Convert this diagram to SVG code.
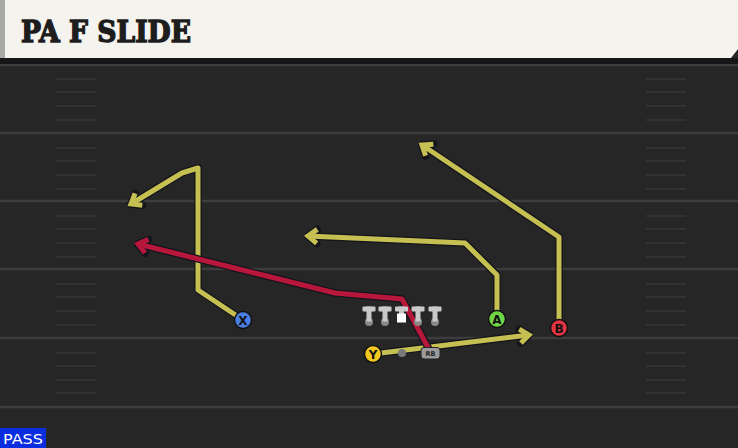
<svg xmlns="http://www.w3.org/2000/svg" width="738" height="448" viewBox="0 0 738 448">
<defs>
<style>
.yl{stroke:#3d3d3d;stroke-width:2.5;fill:none}
.hm{stroke:#373737;stroke-width:1.5}
.out{fill:none;stroke:#14141c;stroke-width:7.5;stroke-linejoin:round;stroke-linecap:round}
.ry{fill:none;stroke:#c6c052;stroke-width:5;stroke-linejoin:round;stroke-linecap:butt}
.rr{fill:none;stroke:#b8173c;stroke-width:5;stroke-linejoin:round;stroke-linecap:butt}
.ply{stroke:#111;stroke-width:1.5}
.lbl{font-family:"DejaVu Sans","Liberation Sans",sans-serif;font-size:12px;font-weight:bold;fill:#111;text-anchor:middle}
.t{fill:#c9c9c9}
.d{fill:#8a8a8a}
</style>
<marker id="aOut" markerUnits="userSpaceOnUse" markerWidth="30" markerHeight="30" refX="0" refY="0" viewBox="-15 -15 30 30" orient="auto" overflow="visible">
<path d="M-9,-7 L0,0 L-9,7" fill="none" stroke="#14141c" stroke-width="7.5" stroke-linejoin="round" stroke-linecap="round"/>
</marker>
<marker id="aY" markerUnits="userSpaceOnUse" markerWidth="30" markerHeight="30" refX="0" refY="0" viewBox="-15 -15 30 30" orient="auto" overflow="visible">
<path d="M-9,-7 L0,0 L-9,7" fill="none" stroke="#c6c052" stroke-width="5" stroke-linejoin="miter" stroke-linecap="butt"/>
</marker>
<marker id="aR" markerUnits="userSpaceOnUse" markerWidth="30" markerHeight="30" refX="0" refY="0" viewBox="-15 -15 30 30" orient="auto" overflow="visible">
<path d="M-9,-7 L0,0 L-9,7" fill="none" stroke="#b8173c" stroke-width="5" stroke-linejoin="miter" stroke-linecap="butt"/>
</marker>
</defs>
<rect x="0" y="0" width="738" height="448" fill="#262626"/>
<g id="field">
<line class="yl" x1="0" y1="65" x2="738" y2="65"/>
<line class="yl" x1="0" y1="133" x2="738" y2="133"/>
<line class="yl" x1="0" y1="201" x2="738" y2="201"/>
<line class="yl" x1="0" y1="269" x2="738" y2="269"/>
<line class="yl" x1="0" y1="338" x2="738" y2="338"/>
<line class="yl" x1="0" y1="407" x2="738" y2="407"/>
<g class="hm">
<path d="M56,79H96M56,92H96M56,106H96M56,120H96M56,148H96M56,161H96M56,175H96M56,189H96M56,216H96M56,229H96M56,243H96M56,257H96M56,284H96M56,297H96M56,311H96M56,325H96M56,353H96M56,366H96M56,380H96M56,393H96"/>
<path d="M646,79H686M646,92H686M646,106H686M646,120H686M646,148H686M646,161H686M646,175H686M646,189H686M646,216H686M646,229H686M646,243H686M646,257H686M646,284H686M646,297H686M646,311H686M646,325H686M646,353H686M646,366H686M646,380H686M646,393H686"/>
</g>
</g>
<g id="header">
<rect x="0" y="58" width="738" height="6" fill="#161616"/>
<path d="M0,0H738V49L731,58H0Z" fill="#f5f3ee"/>
<rect x="0" y="0" width="5" height="58" fill="#a9aaa8"/>
<text x="21" y="42" font-family="'DejaVu Serif','Liberation Serif',serif" font-weight="bold" font-size="29" fill="#1d1d1d" stroke="#1d1d1d" stroke-width="1.4" textLength="170" lengthAdjust="spacingAndGlyphs">PA F SLIDE</text>
</g>
<g id="connectors">
<g id="route-x">
<polyline class="out" points="243,320 198,290 198,168 182,173 131,204" marker-end="url(#aOut)"/>
<polyline class="ry" points="243,320 198,290 198,168 182,173 131,204" marker-end="url(#aY)"/>
</g>
<g id="route-a">
<polyline class="out" points="497,319 497,275 465,243 308,236" marker-end="url(#aOut)"/>
<polyline class="ry" points="497,319 497,275 465,243 308,236" marker-end="url(#aY)"/>
</g>
<g id="route-b">
<polyline class="out" points="559,328 559,237 422,145" marker-end="url(#aOut)"/>
<polyline class="ry" points="559,328 559,237 422,145" marker-end="url(#aY)"/>
</g>
<g id="route-y">
<polyline class="out" points="373,354 529,335" marker-end="url(#aOut)"/>
<polyline class="ry" points="373,354 529,335" marker-end="url(#aY)"/>
</g>
<g id="route-rb">
<polyline class="out" points="430,351 402,299 335,293 138,244" marker-end="url(#aOut)"/>
<polyline class="rr" points="430,351 402,299 335,293 138,244" marker-end="url(#aR)"/>
</g>
</g>
<g id="line">
<g id="lt"><circle class="d" cx="369" cy="322" r="4"/><rect class="t" x="362.5" y="306.5" width="13" height="5" rx="1"/><rect class="t" x="366.5" y="306.5" width="5" height="15"/></g>
<g id="lg"><circle class="d" cx="385" cy="322" r="4"/><rect class="t" x="378.5" y="306.5" width="13" height="5" rx="1"/><rect class="t" x="382.5" y="306.5" width="5" height="15"/></g>
<g id="c"><rect class="t" x="395" y="306.5" width="13" height="5" rx="1"/><rect class="t" x="399" y="306.5" width="5" height="8"/><rect x="397" y="313.5" width="9" height="9" fill="#ffffff"/></g>
<g id="rg"><circle class="d" cx="418" cy="322" r="4"/><rect class="t" x="411.5" y="306.5" width="13" height="5" rx="1"/><rect class="t" x="415.5" y="306.5" width="5" height="15"/></g>
<g id="rt"><circle class="d" cx="435" cy="322" r="4"/><rect class="t" x="428.5" y="306.5" width="13" height="5" rx="1"/><rect class="t" x="432.5" y="306.5" width="5" height="15"/></g>
</g>
<g id="qb"><circle cx="402" cy="353" r="4" fill="#7a7a7a"/></g>
<g id="rb">
<path d="M424,347.5 H437 Q440,347.5 440,350.5 V356 Q440,359 437,359 H424 Q421,359 421,356 V350.5 Q421,347.5 424,347.5Z" fill="#9a9a9a" stroke="#222" stroke-width="1"/>
<text x="430.5" y="356" font-family="'DejaVu Sans',sans-serif" font-size="6.5" font-weight="bold" fill="#222" text-anchor="middle">RB</text>
</g>
<g id="x"><circle class="ply" cx="243" cy="320" r="8.5" fill="#4a80e6"/><text class="lbl" x="243" y="324.5">X</text></g>
<g id="a"><circle class="ply" cx="497" cy="319" r="8.5" fill="#6fd544"/><text class="lbl" x="497" y="323.5">A</text></g>
<g id="b"><circle class="ply" cx="559" cy="328" r="8.5" fill="#e23442"/><text class="lbl" x="559" y="332.5">B</text></g>
<g id="y"><circle class="ply" cx="373" cy="354" r="8.5" fill="#f2c821"/><text class="lbl" x="373" y="358.5">Y</text></g>
<g id="pass">
<rect x="0" y="428" width="46" height="20" fill="#0a2de0"/>
<text x="23" y="444" font-family="'DejaVu Sans','Liberation Sans',sans-serif" font-size="14" fill="#ffffff" text-anchor="middle" textLength="40" lengthAdjust="spacingAndGlyphs">PASS</text>
</g>
</svg>
